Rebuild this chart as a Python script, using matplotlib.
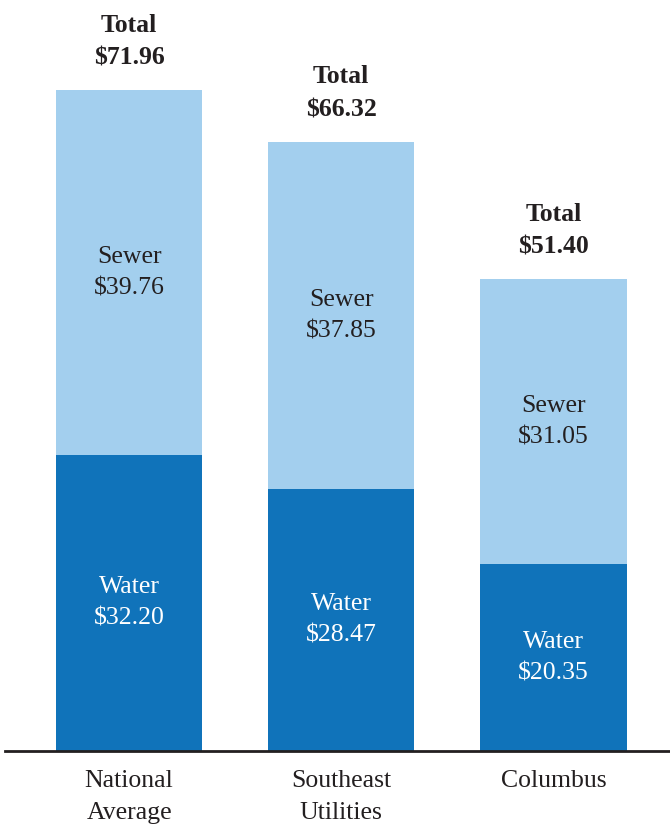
import matplotlib
matplotlib.use("Agg")
import matplotlib.pyplot as plt

# monthly bill components
categories = ["National\nAverage", "Southeast\nUtilities", "Columbus"]
water = [32.20, 28.47, 20.35]
sewer = [39.76, 37.85, 31.05]
totals = [71.96, 66.32, 51.40]

light = "#A3CFEE"
dark = "#1073BA"
ink = "#231F20"

plt.rcParams['font.family'] = ['Liberation Serif', 'DejaVu Serif']
fs = 18.5
ls = 1.56

fig = plt.figure(figsize=(6.7, 8.24), dpi=100)
ax = fig.add_axes([5 / 670, 73 / 824, 665 / 670, 751 / 824])

x = list(range(len(categories)))
ax.bar(x, water, width=0.69, color=dark)
ax.bar(x, sewer, bottom=water, width=0.69, color=light)

for i in x:
    ax.text(i, water[i] / 2, f"Water\n${water[i]:.2f}", ha='center', va='center',
            color='white', fontsize=fs, linespacing=ls)
    ax.text(i, water[i] + sewer[i] / 2, f"Sewer\n${sewer[i]:.2f}", ha='center', va='center',
            color=ink, fontsize=fs, linespacing=ls)
    ax.annotate(f"Total\n${totals[i]:.2f}", (i, totals[i]), xytext=(0, 20),
                textcoords='offset pixels', ha='center', va='bottom',
                fontsize=fs, fontweight='bold', color=ink, linespacing=ls)

ax.set_xlim(-0.585, 2.55)
ax.set_ylim(0, 751 / 9.19)
ax.set_xticks(x)
ax.set_xticklabels(categories, fontsize=fs, color=ink, linespacing=ls)
ax.tick_params(axis='x', length=0, pad=14)
ax.set_yticks([])
for side in ['top', 'right', 'left']:
    ax.spines[side].set_visible(False)
ax.spines['bottom'].set_color(ink)
ax.spines['bottom'].set_linewidth(2)

plt.savefig("out.png", dpi=100)
